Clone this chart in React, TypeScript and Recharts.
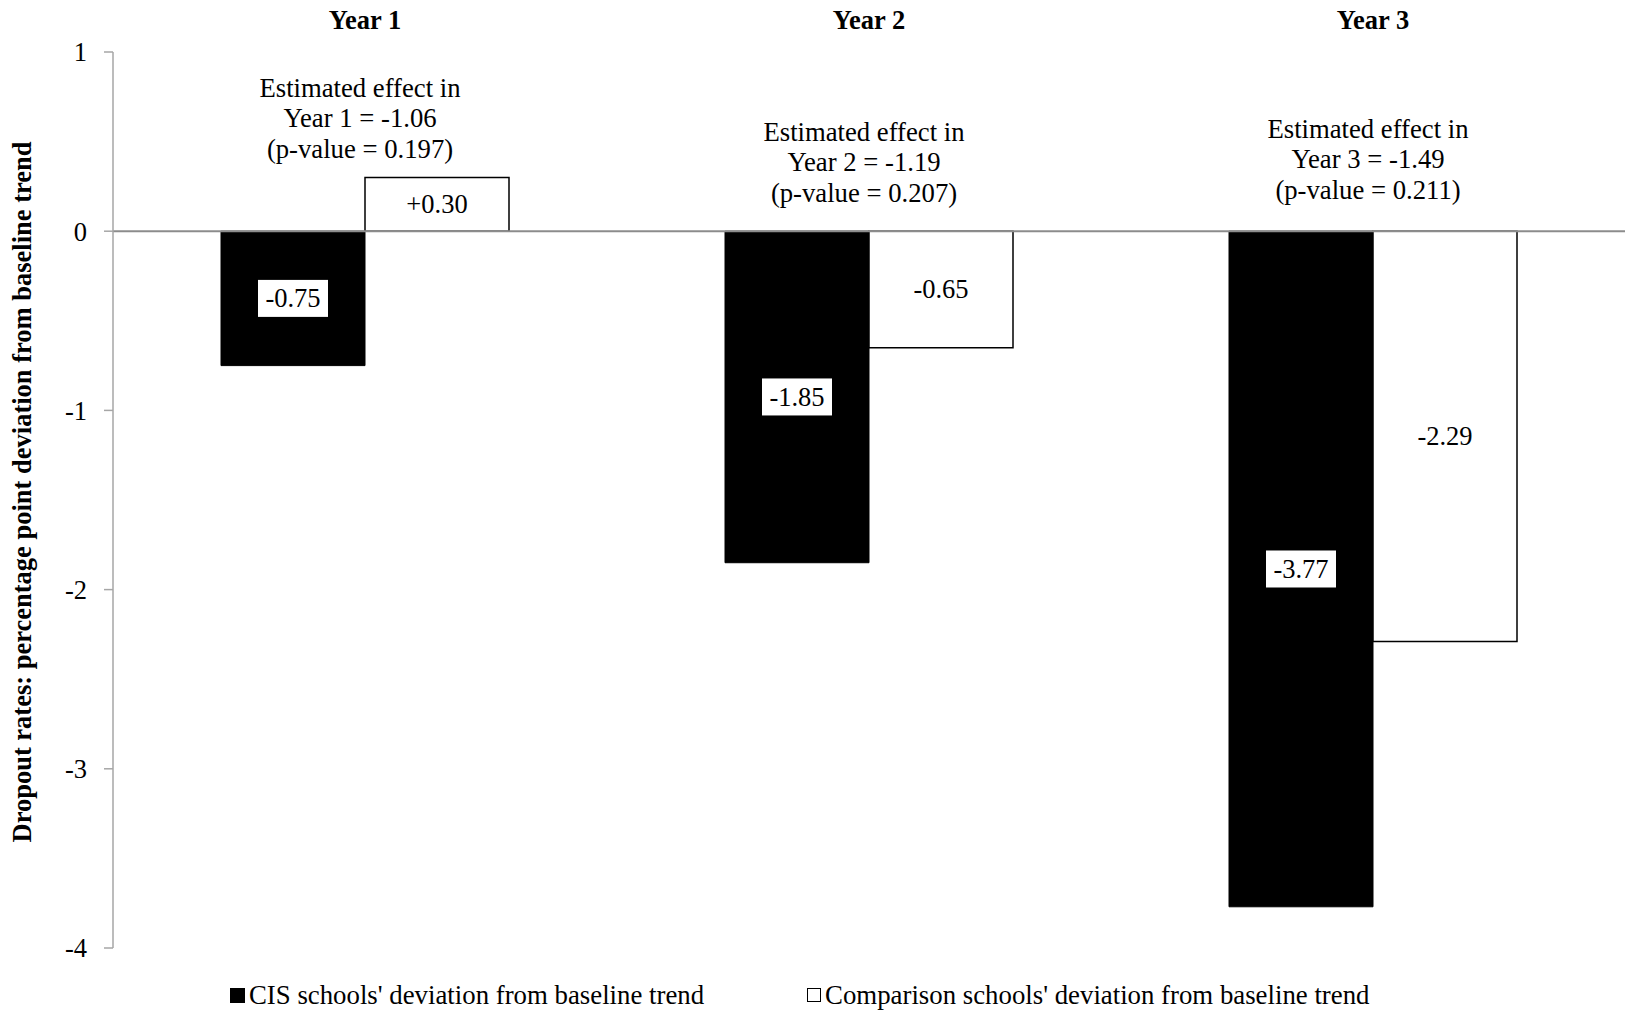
import { Bar, BarChart, LabelList, ReferenceDot, ReferenceLine, XAxis, YAxis } from "recharts";

const FONT = "'Liberation Serif', 'Times New Roman', serif";

const years = ["Year 1", "Year 2", "Year 3"];
const cisValues = [-0.75, -1.85, -3.77];
const comparisonValues = [0.3, -0.65, -2.29];
const effects = ["-1.06", "-1.19", "-1.49"];
const pValues = ["0.197", "0.207", "0.211"];
// where the last line of each note sits, in data units
const noteHeights = [0.41, 0.165, 0.18];
const yTicks = [1, 0, -1, -2, -3, -4];
const seriesNames = [
  "CIS schools' deviation from baseline trend",
  "Comparison schools' deviation from baseline trend",
];

const rows = years.map((year, i) => ({ year, cis: cisValues[i], comparison: comparisonValues[i] }));

const fmt = (v: number) => (v > 0 ? `+${v.toFixed(2)}` : v.toFixed(2));

function YearTick(props: any) {
  const { x, y, payload } = props;
  return (
    <text x={x} y={y - 23} textAnchor="middle" fontFamily={FONT} fontSize={26.5} fontWeight="bold" fill="#000">
      {payload.value}
    </text>
  );
}

function BoxedLabel(props: any) {
  const { x, y, width, height, value } = props;
  const cx = x + width / 2;
  const cy = y + height / 2;
  return (
    <g>
      <rect x={cx - 35} y={cy - 18.5} width={70} height={37} fill="#fff" />
      <text x={cx} y={cy + 9} textAnchor="middle" fontFamily={FONT} fontSize={26.5} fill="#000">
        {fmt(value)}
      </text>
    </g>
  );
}

function PlainLabel(props: any) {
  const { x, y, width, height, value } = props;
  return (
    <text x={x + width / 2} y={y + height / 2 + 9} textAnchor="middle" fontFamily={FONT} fontSize={26.5} fill="#000">
      {fmt(value)}
    </text>
  );
}

function noteContent(i: number) {
  return (props: any) => {
    const vb = props.viewBox || {};
    const cx = vb.x + (vb.width || 0) / 2 - 5;
    const cy = vb.y + (vb.height || 0) / 2;
    const lines = ["Estimated effect in", `${years[i]} = ${effects[i]}`, `(p-value = ${pValues[i]})`];
    return (
      <g>
        {lines.map((t, k) => (
          <text
            key={k}
            x={cx}
            y={cy - (lines.length - 1 - k) * 30.5}
            textAnchor="middle"
            fontFamily={FONT}
            fontSize={26.7}
            fill="#000"
          >
            {t}
          </text>
        ))}
      </g>
    );
  };
}

function AxisTitle(props: any) {
  const vb = props.viewBox || {};
  const cy = vb.y + vb.height / 2 - 8;
  return (
    <text
      x={31}
      y={cy}
      transform={`rotate(-90, 31, ${cy})`}
      textAnchor="middle"
      fontFamily={FONT}
      fontSize={26.5}
      fontWeight="bold"
      fill="#000"
    >
      Dropout rates: percentage point deviation from baseline trend
    </text>
  );
}

function LegendSwatch({ filled }: { filled: boolean }) {
  return (
    <span
      style={{
        display: "inline-block",
        width: filled ? 15 : 12,
        height: filled ? 15 : 12,
        background: filled ? "#000" : "#fff",
        border: filled ? "none" : "1px solid #000",
        marginRight: 4,
      }}
    />
  );
}

export default function App() {
  return (
    <div style={{ position: "absolute", left: 0, top: 0, width: 1625, height: 1010, background: "#fff" }}>
      <BarChart
        width={1625}
        height={1010}
        data={rows}
        margin={{ top: 12, right: 0, bottom: 62, left: 0 }}
        barGap={0}
      >
        <XAxis
          dataKey="year"
          orientation="top"
          height={40}
          axisLine={false}
          tickLine={false}
          tickSize={0}
          tickMargin={0}
          tick={YearTick}
        />
        <YAxis
          width={113}
          domain={[-4, 1]}
          ticks={yTicks}
          interval={0}
          axisLine={{ stroke: "#a6a6a6", strokeWidth: 1.5 }}
          tickLine={{ stroke: "#a6a6a6", strokeWidth: 1.5 }}
          tickSize={9}
          tickMargin={17}
          tick={{ fill: "#000", fontSize: 26.5, fontFamily: FONT }}
          label={{ content: AxisTitle }}
        />
        <Bar dataKey="cis" name={seriesNames[0]} fill="#000" stroke="#000" barSize={144} isAnimationActive={false}>
          <LabelList dataKey="cis" content={BoxedLabel} />
        </Bar>
        <Bar
          dataKey="comparison"
          name={seriesNames[1]}
          fill="#fff"
          stroke="#000"
          strokeWidth={1.5}
          barSize={144}
          isAnimationActive={false}
        >
          <LabelList dataKey="comparison" content={PlainLabel} />
        </Bar>
        <ReferenceLine y={0} stroke="#8c8c8c" strokeWidth={2} />
        {years.map((y, i) => (
          <ReferenceDot
            key={y}
            x={y}
            y={noteHeights[i]}
            r={1}
            fill="none"
            stroke="none"
            label={noteContent(i)}
          />
        ))}
      </BarChart>
      <div
        style={{
          position: "absolute",
          top: 980,
          left: 230,
          display: "flex",
          alignItems: "center",
          fontFamily: FONT,
          fontSize: 26.8,
          lineHeight: "30px",
          color: "#000",
          whiteSpace: "nowrap",
        }}
      >
        <span style={{ display: "flex", alignItems: "center" }}>
          <LegendSwatch filled />
          {seriesNames[0]}
        </span>
        <span style={{ display: "flex", alignItems: "center", marginLeft: 103 }}>
          <LegendSwatch filled={false} />
          {seriesNames[1]}
        </span>
      </div>
    </div>
  );
}
